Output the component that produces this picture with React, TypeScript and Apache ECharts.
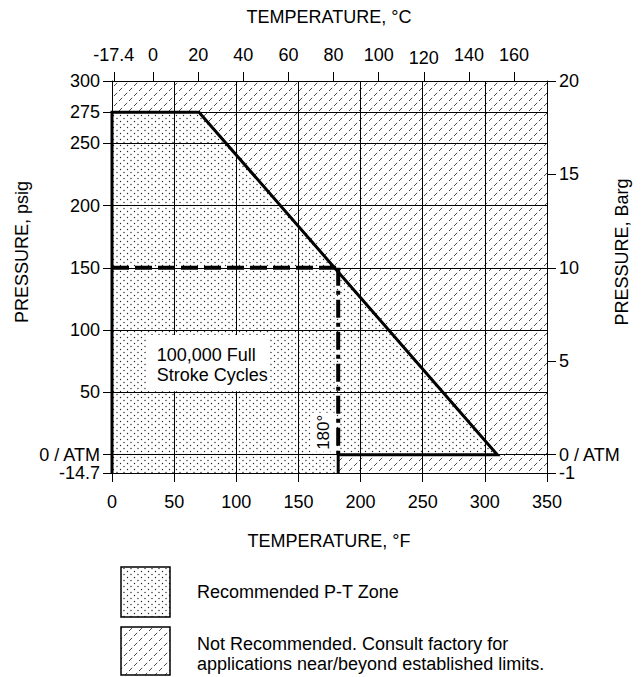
import React, { useEffect, useRef } from 'react';
import * as echarts from 'echarts';

// ---- axis ticks / labels ----
const tempFTicks = [0, 50, 100, 150, 200, 250, 300, 350];
const tempCTicks = [-17.4, 0, 20, 40, 60, 80, 100, 120, 140, 160];
const psigTicks = [-14.7, 0, 50, 100, 150, 200, 250, 275, 300];
const psigTickLabels = ['-14.7', '0 / ATM', '50', '100', '150', '200', '250', '275', '300'];
const bargTicks = [-1, 0, 5, 10, 15, 20];
const bargTickLabels = ['-1', '0 / ATM', '5', '10', '15', '20'];
const PSIG_PER_BARG_ON_CHART = 15;

// ---- zones and limit lines (°F, psig) ----
const recommendedF = [0, 0, 70, 310, 182, 182];
const recommendedPsig = [-14.7, 275, 275, 0, 0, -14.7];
const cycleHorizF = [0, 182];
const cycleHorizPsig = [150, 150];
const cycleVertF = [182, 182];
const cycleVertPsig = [150, 0];

// ---- annotations (°F, psig) ----
const noteBoxF = [28, 126];
const noteBoxPsig = [51, 96];
const noteTextF = 36;
const noteTextPsig = 72;
const label180F = 170;
const label180Psig = 18;

const F_MIN = 0, F_MAX = 350, P_MIN = -14.7, P_MAX = 300;
// top °C scale as drawn on the reference (0 °C and 160 °C tick positions)
const C_AXIS_MIN = -18.2, C_AXIS_MAX = 174.6;

const FONT = '"Liberation Sans", Arial, Helvetica, sans-serif';
const FS = 18;

const dotsSvg = '<svg xmlns="http://www.w3.org/2000/svg" width="7" height="6"><rect width="7" height="6" fill="#fff"/><circle cx="1.5" cy="1.5" r="0.7" fill="#222"/><circle cx="5" cy="4.5" r="0.7" fill="#222"/></svg>';
const hatchSvg = '<svg xmlns="http://www.w3.org/2000/svg" width="10" height="10"><rect width="10" height="10" fill="#fff"/><line x1="-1" y1="11" x2="11" y2="-1" stroke="#333" stroke-width="0.9" stroke-dasharray="4.5 2.57"/></svg>';
const svgUrl = (s: string) => 'data:image/svg+xml;charset=utf-8,' + encodeURIComponent(s);
const dotsPattern: any = { image: svgUrl(dotsSvg), repeat: 'repeat', imageWidth: 7, imageHeight: 6 };
const hatchPattern: any = { image: svgUrl(hatchSvg), repeat: 'repeat', imageWidth: 10, imageHeight: 10 };

const pick = (vals: number[], labels: string[]) => (v: number) => {
  const i = vals.findIndex((x) => Math.abs(x - v) < 1e-6);
  return i >= 0 ? labels[i] : '';
};

const bargPos = bargTicks.map((b) => Math.max(b * PSIG_PER_BARG_ON_CHART, P_MIN));

const labelBase = { color: '#000', fontSize: FS, fontFamily: FONT, showMinLabel: true, showMaxLabel: true, hideOverlap: false };
const lineBase = { show: true, onZero: false, lineStyle: { color: '#000', width: 1 } };
const txt = (extra: any) => ({ fill: '#000', fontSize: FS, fontFamily: FONT, ...extra });

function buildOption(): any {
  return {
    animation: false,
    backgroundColor: '#fff',
    grid: { left: 112, top: 81, width: 435, height: 392, containLabel: false, outerBoundsMode: 'none', show: false },
    xAxis: [
      {
        type: 'value', position: 'bottom', min: F_MIN, max: F_MAX,
        axisLine: lineBase,
        axisTick: { show: true, inside: false, length: 9, customValues: tempFTicks, lineStyle: { color: '#000' } },
        axisLabel: { ...labelBase, margin: 20, customValues: tempFTicks },
        splitLine: { show: true, lineStyle: { color: '#000', width: 1 } },
      },
      {
        type: 'value', position: 'top', min: C_AXIS_MIN, max: C_AXIS_MAX,
        axisLine: lineBase,
        axisTick: { show: true, inside: false, length: 9, customValues: tempCTicks, lineStyle: { color: '#000' } },
        axisLabel: {
          ...labelBase, margin: 26, verticalAlign: 'middle', customValues: tempCTicks,
          formatter: (v: number) => (v === 120 ? '{low|120}' : String(v)),
          rich: { low: { fontSize: FS, fontFamily: FONT, color: '#000', padding: [6, 0, 0, 0] } },
        },
        splitLine: { show: false },
      },
    ],
    yAxis: [
      {
        type: 'value', position: 'left', min: P_MIN, max: P_MAX,
        axisLine: lineBase,
        axisTick: { show: true, inside: false, length: 9, customValues: psigTicks, lineStyle: { color: '#000' } },
        axisLabel: { ...labelBase, margin: 12, customValues: psigTicks, formatter: pick(psigTicks, psigTickLabels) },
        splitLine: { show: true, lineStyle: { color: '#000', width: 1 } },
      },
      {
        type: 'value', position: 'right', min: P_MIN, max: P_MAX,
        axisLine: lineBase,
        axisTick: { show: true, inside: false, length: 9, customValues: bargPos, lineStyle: { color: '#000' } },
        axisLabel: { ...labelBase, margin: 12, customValues: bargPos, formatter: pick(bargPos, bargTickLabels) },
        splitLine: { show: false },
      },
    ],
    series: [
      {
        type: 'custom', name: 'Not Recommended', z: -2, silent: true,
        data: [[F_MIN, P_MIN]],
        renderItem: (_p: any, api: any) => {
          const pts = [[F_MIN, P_MIN], [F_MAX, P_MIN], [F_MAX, P_MAX], [F_MIN, P_MAX]].map((d) => api.coord(d));
          return { type: 'polygon', shape: { points: pts }, style: { fill: hatchPattern } };
        },
      },
      {
        type: 'custom', name: 'Recommended P-T Zone', z: -1, silent: true,
        data: [[F_MIN, P_MIN]],
        renderItem: (_p: any, api: any) => {
          const pts = recommendedF.map((f, i) => api.coord([f, recommendedPsig[i]]));
          return { type: 'polygon', shape: { points: pts }, style: { fill: dotsPattern } };
        },
      },
      {
        type: 'line', name: 'boundary', z: 4, clip: false, symbol: 'none', silent: true,
        data: recommendedF.map((f, i) => [f, recommendedPsig[i]]),
        lineStyle: { color: '#000', width: 3, cap: 'butt', join: 'miter' },
      },
      {
        type: 'line', name: '150 psig', z: 4, clip: false, symbol: 'none', silent: true,
        data: cycleHorizF.map((f, i) => [f, cycleHorizPsig[i]]),
        lineStyle: { color: '#000', width: 4, type: [17, 6], cap: 'butt' },
      },
      {
        type: 'line', name: '180 F', z: 4, clip: false, symbol: 'none', silent: true,
        data: cycleVertF.map((f, i) => [f, cycleVertPsig[i]]),
        lineStyle: { color: '#000', width: 4, type: [18, 5, 4, 5], cap: 'butt' },
      },
      {
        type: 'custom', name: 'notes', z: 5, silent: true,
        data: [[F_MIN, P_MIN]],
        renderItem: (_p: any, api: any) => {
          const a = api.coord([noteBoxF[0], noteBoxPsig[1]]);
          const b = api.coord([noteBoxF[1], noteBoxPsig[0]]);
          const t = api.coord([noteTextF, noteTextPsig]);
          const l = api.coord([label180F, label180Psig]);
          return {
            type: 'group',
            children: [
              { type: 'rect', shape: { x: a[0], y: a[1], width: b[0] - a[0], height: b[1] - a[1] }, style: { fill: '#fff' } },
              {
                type: 'text', x: t[0], y: t[1],
                style: txt({ text: '100,000 Full\nStroke Cycles', lineHeight: 20, align: 'left', verticalAlign: 'middle' }),
              },
              {
                type: 'text', x: l[0], y: l[1], rotation: Math.PI / 2,
                style: txt({ text: '180°', fontSize: 17, align: 'center', verticalAlign: 'middle', backgroundColor: '#fff', padding: [4, 2] }),
              },
            ],
          };
        },
      },
    ],
    graphic: [
      { type: 'text', x: 329, y: 17, style: txt({ text: 'TEMPERATURE, °C', align: 'center', verticalAlign: 'middle', textAlign: 'center', textVerticalAlign: 'middle' }) },
      { type: 'text', x: 329, y: 541, style: txt({ text: 'TEMPERATURE, °F', align: 'center', verticalAlign: 'middle', textAlign: 'center', textVerticalAlign: 'middle' }) },
      { type: 'text', x: 22, y: 252, rotation: Math.PI / 2, style: txt({ text: 'PRESSURE, psig', align: 'center', verticalAlign: 'middle', textAlign: 'center', textVerticalAlign: 'middle' }) },
      { type: 'text', x: 622, y: 252, rotation: Math.PI / 2, style: txt({ text: 'PRESSURE, Barg', align: 'center', verticalAlign: 'middle', textAlign: 'center', textVerticalAlign: 'middle' }) },
      { type: 'rect', shape: { x: 121, y: 567, width: 49, height: 50 }, style: { fill: dotsPattern, stroke: '#000', lineWidth: 1.5 } },
      { type: 'text', x: 197, y: 592, style: txt({ text: 'Recommended P-T Zone', align: 'left', verticalAlign: 'middle', textAlign: 'left', textVerticalAlign: 'middle' }) },
      { type: 'rect', shape: { x: 121, y: 627, width: 49, height: 48 }, style: { fill: hatchPattern, stroke: '#000', lineWidth: 1.5 } },
      { type: 'text', x: 197, y: 654, style: txt({ text: 'Not Recommended. Consult factory for\napplications near/beyond established limits.', lineHeight: 20, align: 'left', verticalAlign: 'middle', textAlign: 'left', textVerticalAlign: 'middle' }) },
    ],
  };
}

export default function App() {
  const ref = useRef<HTMLDivElement>(null);
  useEffect(() => {
    if (!ref.current) return;
    const chart = echarts.init(ref.current, null, { renderer: 'svg', width: 644, height: 677 });
    chart.setOption(buildOption());
    return () => chart.dispose();
  }, []);
  return <div ref={ref} style={{ position: 'fixed', left: 0, top: 0, width: 644, height: 677, background: '#fff' }} />;
}
